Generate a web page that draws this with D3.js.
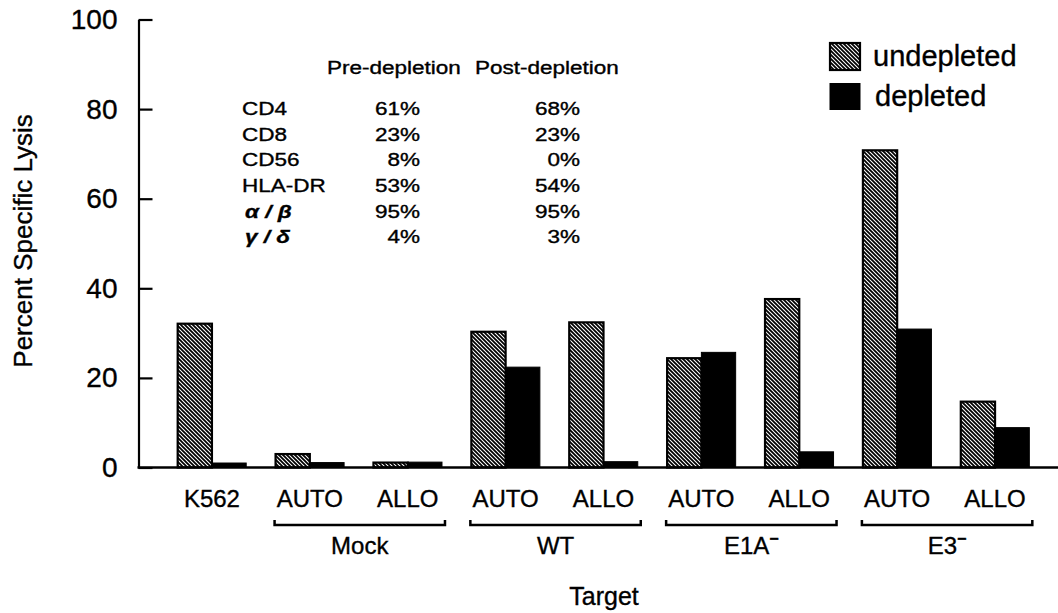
<!DOCTYPE html>
<html>
<head>
<meta charset="utf-8">
<script src="https://cdn.jsdelivr.net/npm/d3@7"></script>
<style>
  html, body { margin: 0; padding: 0; background: #fff; }
  svg { display: block; }
  text { font-family: "Liberation Sans", Arial, Helvetica, sans-serif; fill: #000; stroke: #000; stroke-width: 0.35px; }
</style>
</head>
<body>
<svg id="chart" width="1058" height="613"></svg>
<script>
// ---- data ----
const categories = ["K562", "MockAUTO", "MockALLO", "WTAUTO", "WTALLO", "E1AAUTO", "E1AALLO", "E3AUTO", "E3ALLO"];
const subLabels = ["K562", "AUTO", "ALLO", "AUTO", "ALLO", "AUTO", "ALLO", "AUTO", "ALLO"];
const undepleted = [32.1, 3.0, 1.1, 30.3, 32.4, 24.4, 37.6, 70.8, 14.7];
const depleted   = [1.0, 1.1, 1.2, 22.4, 1.3, 25.7, 3.5, 30.9, 8.9];
const seriesNames = ["undepleted", "depleted"];
const groupNames = ["Mock", "WT", "E1A", "E3"];
const groupSup = ["", "", "−", "−"];
const groupMembers = [["MockAUTO", "MockALLO"], ["WTAUTO", "WTALLO"], ["E1AAUTO", "E1AALLO"], ["E3AUTO", "E3ALLO"]];
const yTicks = [0, 20, 40, 60, 80, 100];
const tableHeaders = ["Pre-depletion", "Post-depletion"];
const markers = ["CD4", "CD8", "CD56", "HLA-DR", "α / β", "γ / δ"];
const preDepletion = ["61%", "23%", "8%", "53%", "95%", "4%"];
const postDepletion = ["68%", "23%", "0%", "54%", "95%", "3%"];

// ---- layout ----
const svg = d3.select("#chart");
const axisX = 138.5, baseY = 467.5, topY = 19.5;

const defs = svg.append("defs");
const pat = defs.append("pattern")
  .attr("id", "hatch").attr("patternUnits", "userSpaceOnUse")
  .attr("width", 4).attr("height", 4);
pat.append("rect").attr("width", 4).attr("height", 4).attr("fill", "#fff");
pat.append("path").attr("d", "M-1,-1 L5,5 M-1,3 L1,5 M3,-1 L5,1")
  .attr("stroke", "#000").attr("stroke-width", 1.8);

const y = d3.scaleLinear().domain([0, 100]).range([baseY, topY]);
const x = d3.scaleBand().domain(categories).range([163, 1044]).paddingInner(0.3).paddingOuter(0.15);
const xs = d3.scaleBand().domain(seriesNames).range([0, x.bandwidth()]).padding(0);

const rows = categories.map((c, i) => ({ c, vals: [undepleted[i], depleted[i]] }));

// bars
const g = svg.append("g");
rows.forEach(r => {
  r.vals.forEach((v, j) => {
    const bx = x(r.c) + xs(seriesNames[j]);
    const rect = g.append("rect")
      .attr("x", bx)
      .attr("y", y(v))
      .attr("width", xs.bandwidth())
      .attr("height", baseY - y(v));
    if (j === 0) {
      rect.attr("fill", "url(#hatch)").attr("stroke", "#000").attr("stroke-width", 2.2);
    } else {
      rect.attr("fill", "#000").attr("stroke", "#000").attr("stroke-width", 1);
    }
  });
});

// y axis
const yAxis = d3.axisLeft(y).tickValues(yTicks).tickSizeInner(-14).tickSizeOuter(0).tickPadding(21);
const ya = svg.append("g").attr("transform", `translate(${axisX},0)`).call(yAxis);
ya.select(".domain").attr("stroke", "#000").attr("stroke-width", 2.2);
ya.selectAll(".tick line").attr("stroke", "#000").attr("stroke-width", 2.2);
ya.selectAll(".tick text").attr("font-size", 28).attr("font-family", "Liberation Sans, Arial, sans-serif").attr("fill", "#000");

// baseline
svg.append("line").attr("x1", axisX - 1).attr("x2", 1058).attr("y1", baseY).attr("y2", baseY)
  .attr("stroke", "#000").attr("stroke-width", 2.5);

// x sub labels
svg.append("g").selectAll("text").data(categories).join("text")
  .attr("x", d => x(d) + x.bandwidth() / 2)
  .attr("y", 507)
  .attr("text-anchor", "middle")
  .attr("font-size", 24)
  .text((d, i) => subLabels[i]);

// group brackets
groupMembers.forEach((m, i) => {
  const x0 = x(m[0]) - 1, x1 = x(m[1]) + x.bandwidth() + 3;
  svg.append("path")
    .attr("d", `M${x0},520 V525 H${x1} V520`)
    .attr("fill", "none").attr("stroke", "#000").attr("stroke-width", 2.5);
  const t = svg.append("text")
    .attr("x", (x0 + x1) / 2).attr("y", 554)
    .attr("text-anchor", "middle").attr("font-size", 24)
    .text(groupNames[i]);
  if (groupSup[i]) {
    t.append("tspan").attr("font-size", 16).attr("dy", -10).attr("font-weight", "bold").text(groupSup[i]);
  }
});

// axis titles
svg.append("text").attr("x", 604).attr("y", 605).attr("text-anchor", "middle")
  .attr("font-size", 25).text("Target");
svg.append("text").attr("transform", "translate(32,241) rotate(-90)")
  .attr("text-anchor", "middle").attr("font-size", 26).text("Percent Specific Lysis");

// legend
const legend = svg.append("g");
legend.append("rect").attr("x", 830).attr("y", 43).attr("width", 30).attr("height", 27)
  .attr("fill", "url(#hatch)").attr("stroke", "#000").attr("stroke-width", 2.2);
legend.append("rect").attr("x", 829.5).attr("y", 83).attr("width", 31).attr("height", 27)
  .attr("fill", "#000");
legend.append("text").attr("x", 873).attr("y", 66).attr("font-size", 29).text(seriesNames[0]);
legend.append("text").attr("x", 875).attr("y", 106).attr("font-size", 29).text(seriesNames[1]);

// table
const sx = 1.25;
const tbl = svg.append("g");
function ttext(tx, ty, str, anchor, opts) {
  const t = tbl.append("text")
    .attr("transform", `translate(${tx},${ty}) scale(${sx},1)`)
    .attr("text-anchor", anchor).attr("font-size", 18).text(str);
  if (opts && opts.greek) t.attr("font-style", "italic").attr("font-weight", "bold");
  return t;
}
ttext(327, 73.5, tableHeaders[0], "start");
ttext(475, 73.5, tableHeaders[1], "start");
const rowBase = [115, 140.5, 166, 191.5, 217.5, 243];
markers.forEach((m, i) => {
  const greek = i >= 4;
  ttext(greek ? 245 : 242, rowBase[i], m, "start", { greek });
  ttext(420, rowBase[i], preDepletion[i], "end");
  ttext(580, rowBase[i], postDepletion[i], "end");
});
</script>
</body>
</html>
